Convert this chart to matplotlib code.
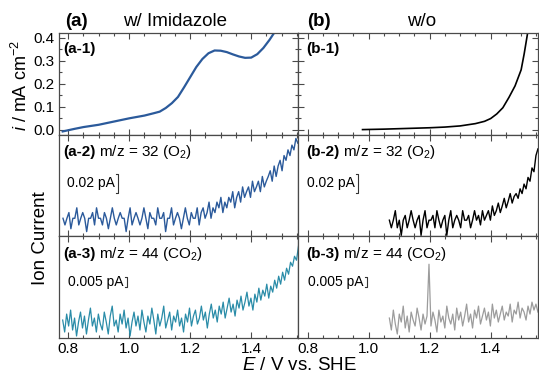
import numpy as np
import matplotlib
matplotlib.use('Agg')
import matplotlib.pyplot as plt
from matplotlib.ticker import MultipleLocator, NullLocator, FormatStrFormatter

plt.rcParams['font.family'] = ['Liberation Sans', 'DejaVu Sans']
plt.rcParams['mathtext.fontset'] = 'custom'
plt.rcParams['mathtext.rm'] = 'Liberation Sans'
plt.rcParams['mathtext.it'] = 'Liberation Sans:italic'
plt.rcParams['mathtext.bf'] = 'Liberation Sans:bold'

# --- CV, with imidazole (mA cm-2) ---
cv_a_E = [0.782, 0.82, 0.85, 0.90, 0.95, 1.00, 1.05, 1.08, 1.10, 1.12, 1.14, 1.16, 1.18, 1.20,
          1.22, 1.24, 1.26, 1.28, 1.30, 1.32, 1.34, 1.36, 1.38, 1.40, 1.42, 1.44, 1.46, 1.48]
cv_a_i = [-0.008, 0.003, 0.011, 0.021, 0.035, 0.049, 0.061, 0.071, 0.078, 0.094, 0.115, 0.142,
          0.184, 0.228, 0.272, 0.307, 0.332, 0.344, 0.343, 0.337, 0.327, 0.318, 0.312, 0.313,
          0.328, 0.355, 0.390, 0.430]

# --- CV, without imidazole ---
cv_b_E = [0.98, 1.05, 1.10, 1.15, 1.20, 1.25, 1.30, 1.35, 1.38, 1.40, 1.42, 1.44, 1.46, 1.48,
          1.50, 1.51, 1.52, 1.53]
cv_b_i = [0.000, 0.002, 0.004, 0.006, 0.008, 0.011, 0.016, 0.026, 0.036, 0.048, 0.068, 0.095,
          0.140, 0.190, 0.260, 0.330, 0.410, 0.500]

# --- MS m/z = 32, with imidazole (fA), sweep 0.783 -> 1.553 V ---
o2_a = [19, 12, 19, 25, 8, 19, 19, 30, 12, 19, 25, 19, 5, 19, 19, 25, 12, 30, 19, 19,
        12, 25, 19, 8, 19, 30, 19, 12, 19, 25, 19, 19, 5, 19, 30, 12, 19, 25, 19, 12,
        19, 30, 19, 8, 25, 19, 19, 12, 30, 19, 19, 25, 5, 19, 19, 30, 12, 19, 25, 19,
        8, 19, 30, 19, 12, 25, 19, 19, 30,
        12, 25, 30, 19, 25, 36, 19, 30, 25, 36, 30, 41, 25, 36, 30, 41, 36, 47, 30, 41,
        47, 36, 52, 41, 47, 52, 41, 58, 47, 52, 58, 47, 63, 52, 58, 63, 69, 58, 74, 63,
        74, 80, 69, 85, 80, 91, 85, 96, 91, 103, 98]

# --- MS m/z = 44, with imidazole (fA), sweep 0.782 -> 1.555 V ---
co2_a = [9, 3, 12, 6, 14, 4, 10, 1, 8, 13, 5, 11, 2, 9, 15, 6, 10, 3, 12, 7,
         4, 13, 8, 2, 11, 16, 6, 9, 3, 12, 7, 14, 5, 10, 1, 8, 13, 6, 11, 4,
         14, 8, 3, 11, 7, 15, 9, 2, 12, 6, 10, 16, 5, 9, 13, 4, 11, 8, 14, 6,
         10, 3, 12, 8, 15, 6, 11, 14, 7, 10, 16, 9, 13, 5, 12, 17, 10, 14, 8, 16,
         12, 18, 10, 15, 20, 13, 17, 11, 19, 15, 21, 14, 18, 23, 16, 20, 14, 22, 18, 25,
         19, 24, 21, 27, 20, 26, 23, 29, 25, 31, 27, 33, 29, 35, 32, 38, 36, 41, 39, 46]

# --- MS m/z = 32, without imidazole (fA), sweep 1.068 -> 1.555 V ---
o2_b = [17, 9, 17, 27, 9, 17, 1, 17, 22, 9, 17, 27, 17, 9, 17, 22, 1, 17, 27, 9,
        17, 17, 22, 9, 27, 17, 9, 17, 22, 1, 17, 27, 9, 17, 22, 17, 9, 27, 17, 17,
        22, 9, 17, 27, 17, 22, 12, 27, 17, 22,
        27, 17, 32, 22, 27, 35, 25, 32, 40, 30, 37, 45, 35, 42, 45, 40, 50, 45, 55, 50,
        62, 58, 72, 68, 85, 92]

# --- MS m/z = 44, without imidazole (fA), sweep 1.068 -> 1.555 V ---
co2_b = [10, 4, 14, 7, 2, 12, 8, 16, 5, 11, 3, 13, 9, 6, 15, 10, 4, 12, 7, 11,
         37, 6, 13, 9, 3, 14, 8, 11, 5, 16, 10, 7, 12, 4, 15, 9, 13, 6, 11, 17,
         8, 12, 5, 14, 10, 16, 7, 11, 15, 9, 13, 6, 17, 10, 14, 8, 12, 16, 9, 13,
         11, 17, 8, 14, 12, 18, 10, 15, 13, 9, 16, 12, 18, 14, 17, 13]

E_o2_a = np.linspace(0.783, 1.553, len(o2_a))
E_co2_a = np.linspace(0.782, 1.555, len(co2_a))
E_o2_b = np.linspace(1.068, 1.555, len(o2_b))
E_co2_b = np.linspace(1.068, 1.555, len(co2_b))

blue = '#2b5a9b'
teal = '#2a8ca8'
grey = '#9c9c9c'
frame = '#4a4a4a'

fig, axs = plt.subplots(3, 2, figsize=(5.39, 3.75), dpi=100,
                        gridspec_kw=dict(hspace=0, wspace=0))
fig.subplots_adjust(left=0.1095, right=0.998, top=0.912, bottom=0.0987)

for r in range(3):
    for c in range(2):
        ax = axs[r, c]
        ax.set_xlim(0.77, 1.555)
        ax.xaxis.set_major_locator(MultipleLocator(0.2))
        ax.xaxis.set_minor_locator(MultipleLocator(0.05))
        ax.xaxis.set_major_formatter(FormatStrFormatter('%.1f'))
        ax.tick_params(which='both', direction='in', top=True, right=True,
                       color=frame, width=0.8, labelsize=11, pad=3)
        ax.tick_params(which='major', length=4)
        ax.tick_params(which='minor', length=2.5)
        for s in ax.spines.values():
            s.set_color(frame)
            s.set_linewidth(0.9)
        if r < 2:
            ax.tick_params(labelbottom=False)
        if r == 0:
            ax.set_ylim(-0.022, 0.42)
            ax.yaxis.set_major_locator(MultipleLocator(0.1))
            ax.yaxis.set_minor_locator(MultipleLocator(0.05))
            ax.yaxis.set_major_formatter(FormatStrFormatter('%.1f'))
            if c == 1:
                ax.tick_params(labelleft=False)
        else:
            ax.yaxis.set_major_locator(NullLocator())
            ax.yaxis.set_minor_locator(NullLocator())
        if r == 1:
            ax.set_ylim(0, 107)
        if r == 2:
            ax.set_ylim(0, 51)

axs[0, 0].plot(cv_a_E, cv_a_i, color=blue, lw=1.6)
axs[0, 1].plot(cv_b_E, cv_b_i, color='black', lw=1.2)
axs[1, 0].plot(E_o2_a, o2_a, color=blue, lw=1.0)
axs[1, 1].plot(E_o2_b, o2_b, color='black', lw=1.0)
axs[2, 0].plot(E_co2_a, co2_a, color=teal, lw=0.9)
axs[2, 1].plot(E_co2_b, co2_b, color=grey, lw=0.9)

renderer = fig.canvas.get_renderer()


def panel_label(ax, x, y, tag, rest=None):
    t = ax.text(x, y, tag, transform=ax.transAxes, fontsize=11,
                fontweight='bold', va='baseline')
    if rest:
        bb = t.get_window_extent(renderer=renderer)
        x1 = ax.transAxes.inverted().transform((bb.x1, bb.y0))[0]
        ax.text(x1, y, rest, transform=ax.transAxes, fontsize=11, va='baseline')


def scale_bar(ax, xe, y0, h, label):
    d = 0.007
    ax.plot([xe - d, xe, xe, xe - d], [y0, y0, y0 + h, y0 + h], color='#333333', lw=0.8)
    ax.text(xe - 0.011, y0 + h / 2, label, fontsize=10, ha='right', va='center')


panel_label(axs[0, 0], 0.017, 0.80, '(a-1)')
panel_label(axs[0, 1], 0.032, 0.80, '(b-1)')
panel_label(axs[1, 0], 0.017, 0.79, '(a-2)', ' m/z = 32 (O$_2$)')
panel_label(axs[1, 1], 0.032, 0.79, '(b-2)', ' m/z = 32 (O$_2$)')
panel_label(axs[2, 0], 0.017, 0.79, '(a-3)', ' m/z = 44 (CO$_2$)')
panel_label(axs[2, 1], 0.032, 0.79, '(b-3)', ' m/z = 44 (CO$_2$)')

scale_bar(axs[1, 0], 0.963, 46, 20, '0.02 pA')
scale_bar(axs[1, 1], 0.966, 46, 20, '0.02 pA')
scale_bar(axs[2, 0], 0.992, 25.5, 5, '0.005 pA')
scale_bar(axs[2, 1], 0.995, 25.5, 5, '0.005 pA')

fig.text(0.121, 0.931, '(a)', fontsize=13.5, fontweight='bold', va='baseline')
fig.text(0.325, 0.931, 'w/ Imidazole', fontsize=13.5, ha='center', va='baseline')
fig.text(0.569, 0.931, '(b)', fontsize=13.5, fontweight='bold', va='baseline')
fig.text(0.783, 0.931, 'w/o', fontsize=13.5, ha='center', va='baseline')

fig.text(0.038, 0.773, r'$i$ / mA cm$^{-2}$', fontsize=13, rotation=90,
         ha='center', va='center')
fig.text(0.075, 0.365, 'Ion Current', fontsize=13.5, rotation=90,
         ha='center', va='center')
fig.text(0.555, 0.014, r'$E$ / V vs. SHE', fontsize=13.5, ha='center', va='baseline')

fig.savefig('out.png', dpi=100)
